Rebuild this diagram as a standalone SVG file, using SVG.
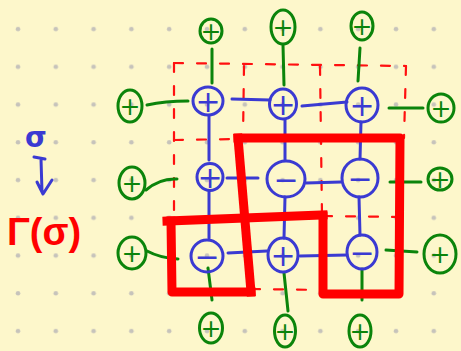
<svg xmlns="http://www.w3.org/2000/svg" width="461" height="351" viewBox="0 0 461 351">
<defs>
<style>
.bg{fill:#fdf7cb}
.dot{fill:#c6c3bb}
.bl{fill:none;stroke:#3a3ad2;stroke-width:3;stroke-linecap:round;stroke-linejoin:round}
.gr{fill:none;stroke:#0b840b;stroke-width:3;stroke-linecap:round;stroke-linejoin:round}
.rd{fill:none;stroke:#ff1010;stroke-width:2.2;stroke-dasharray:9 14;stroke-linecap:round}
.rt{fill:none;stroke:#ff0000;stroke-width:9;stroke-linecap:square;stroke-linejoin:round}
.bs{fill:#3a3ad2;font-family:"DejaVu Sans",sans-serif;font-size:30px;text-anchor:middle;dominant-baseline:central}
.gs{fill:#0b840b;font-family:"DejaVu Sans",sans-serif;font-size:25px;text-anchor:middle;dominant-baseline:central}
</style>
<pattern id="dots" x="0" y="0" width="37.8" height="37.75" patternUnits="userSpaceOnUse">
<circle class="dot" cx="18" cy="29" r="2.3"/>
</pattern>
</defs>
<rect class="bg" x="0" y="0" width="461" height="351"/>
<rect x="0" y="0" width="461" height="351" fill="url(#dots)"/>

<g id="plaquettes-dashed">
<path class="rd" d="M174,63 L406,66"/>
<path class="rd" d="M174,63 L174,218"/>
<path class="rd" d="M244,66 L243,138"/>
<path class="rd" d="M320,66 L322,215"/>
<path class="rd" d="M406,66 L404,138"/>
<path class="rd" d="M174,140 L238,139"/>
<path class="rd" d="M323,216 L399,217"/>
<path class="rd" d="M251,289 L323,290"/>
</g>

<g id="connectors">
<path class="bl" d="M232,99 L270,100"/>
<path class="bl" d="M302,106 L347,102"/>
<path class="bl" d="M227,178 L258,178"/>
<path class="bl" d="M306,183 L341,182"/>
<path class="bl" d="M228,253 L267,251"/>
<path class="bl" d="M300,256 L347,255"/>
<path class="bl" d="M209,116 L209,160"/>
<path class="bl" d="M209,192 L209,238"/>
<path class="bl" d="M285,120 L285,160"/>
<path class="bl" d="M285,197 L284,238"/>
<path class="bl" d="M361,122 L360,159"/>
<path class="bl" d="M359,197 L360,235"/>
<path class="gr" d="M147,105 Q165,101 188,101"/>
<path class="gr" d="M146,190 Q160,178 177,179"/>
<path class="gr" d="M147,251 Q160,258 178,259"/>
<path class="gr" d="M389,108 L423,108"/>
<path class="gr" d="M390,182 L421,182"/>
<path class="gr" d="M386,250 L417,252"/>
<path class="gr" d="M212,49 L212,83"/>
<path class="gr" d="M283,45 L284,85"/>
<path class="gr" d="M360,48 L358,81"/>
<path class="gr" d="M208,268 L212,300"/>
<path class="gr" d="M284,273 L288,311"/>
<path class="gr" d="M362,269 L362,300"/>
</g>

<g id="regions-thick">
<path class="rt" d="M238,138 L400,138 L399,294 L323,294 L323,216"/>
<path class="rt" d="M238,138 L251,292"/>
<path class="rt" d="M167,221 L323,215"/>
<path class="rt" d="M171,221 L172,292 L251,292"/>
</g>

<g id="s11"><ellipse class="bl" cx="208" cy="101" rx="15" ry="14"/><text class="bs" x="208" y="101">+</text></g>
<g id="s12"><ellipse class="bl" cx="283" cy="104" rx="13.5" ry="15"/><text class="bs" x="283" y="104">+</text></g>
<g id="s13"><ellipse class="bl" cx="362" cy="105" rx="16" ry="17"/><text class="bs" x="362" y="105">+</text></g>
<g id="s21"><ellipse class="bl" cx="210" cy="177" rx="13" ry="13.5"/><text class="bs" x="210" y="177">+</text></g>
<g id="s22"><ellipse class="bl" cx="286" cy="179" rx="19" ry="18"/><text class="bs" x="286" y="179">−</text></g>
<g id="s23"><ellipse class="bl" cx="360" cy="178" rx="18" ry="19"/><text class="bs" x="360" y="178">−</text></g>
<g id="s31"><ellipse class="bl" cx="207" cy="256" rx="16" ry="16"/><text class="bs" x="207" y="256">−</text></g>
<g id="s32"><ellipse class="bl" cx="283" cy="255" rx="15" ry="17"/><text class="bs" x="283" y="255">+</text></g>
<g id="s33"><ellipse class="bl" cx="362" cy="252" rx="15" ry="17"/><text class="bs" x="362" y="252">−</text></g>

<g id="bt1"><ellipse class="gr" cx="211" cy="31" rx="11" ry="12"/><text class="gs" x="211" y="31">+</text></g>
<g id="bt2"><ellipse class="gr" cx="283" cy="27" rx="12" ry="17"/><text class="gs" x="283" y="27">+</text></g>
<g id="bt3"><ellipse class="gr" cx="362" cy="26" rx="11" ry="14"/><text class="gs" x="362" y="26">+</text></g>
<g id="bl1"><ellipse class="gr" cx="130" cy="106" rx="12" ry="16"/><text class="gs" x="130" y="106">+</text></g>
<g id="bl2"><ellipse class="gr" cx="132" cy="183" rx="13" ry="16"/><text class="gs" x="132" y="183">+</text></g>
<g id="bl3"><ellipse class="gr" cx="132" cy="253" rx="14" ry="16"/><text class="gs" x="132" y="253">+</text></g>
<g id="br1"><ellipse class="gr" cx="441" cy="108" rx="13" ry="14"/><text class="gs" x="441" y="108">+</text></g>
<g id="br2"><ellipse class="gr" cx="440" cy="179" rx="12" ry="11"/><text class="gs" x="440" y="179">+</text></g>
<g id="br3"><ellipse class="gr" cx="440" cy="254" rx="16" ry="19"/><text class="gs" x="440" y="254">+</text></g>
<g id="bb1"><ellipse class="gr" cx="211" cy="328" rx="11.5" ry="15"/><text class="gs" x="211" y="328">+</text></g>
<g id="bb2"><ellipse class="gr" cx="285" cy="331" rx="10.5" ry="16"/><text class="gs" x="285" y="331">+</text></g>
<g id="bb3"><ellipse class="gr" cx="360" cy="331" rx="11" ry="16"/><text class="gs" x="360" y="331">+</text></g>

<g id="legend">
<text x="36" y="147" fill="#3a3ad2" font-family="DejaVu Sans, sans-serif" font-weight="bold" font-size="28" text-anchor="middle">σ</text>
<path class="bl" d="M34,157 L45,159 M41,159 L42,192 M37,182 L43,194 L52,180"/>
<text x="7" y="245" fill="#ff0000" font-family="Liberation Sans, sans-serif" font-weight="bold" font-size="38">Γ(σ)</text>
</g>
</svg>
